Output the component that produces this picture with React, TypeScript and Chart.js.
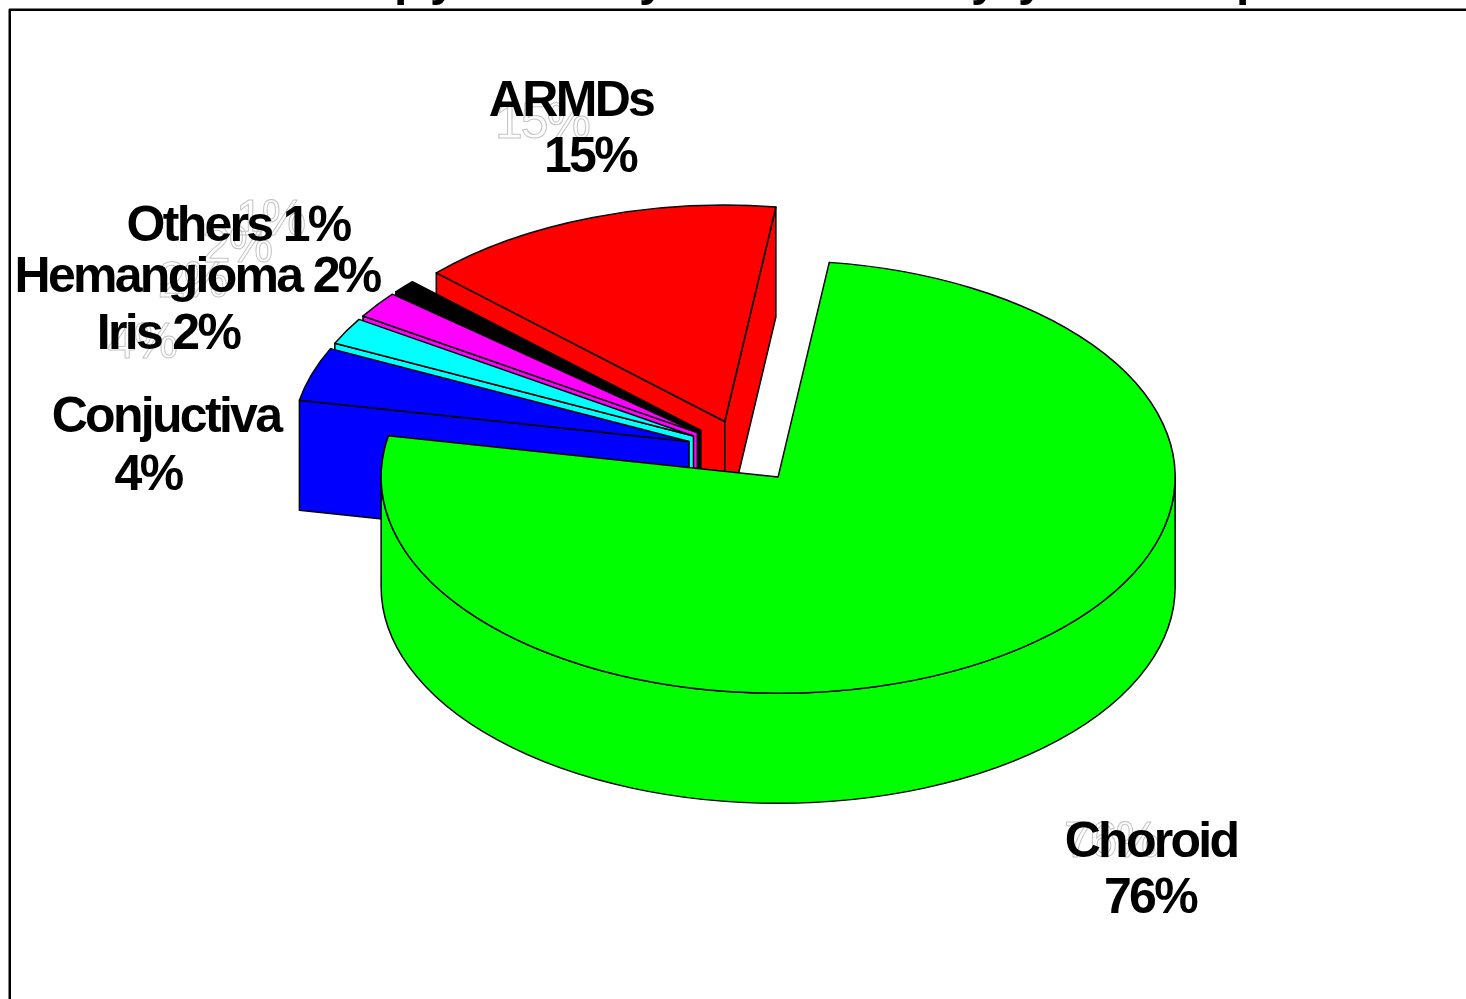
import React, { useEffect, useRef } from "react";
import { Chart, registerables } from "chart.js";

Chart.register(...registerables);

const sites = ["Choroid", "Conjuctiva", "Iris", "Hemangioma", "Others", "ARMDs"];
const shares = [76, 4, 2, 2, 1, 15];
const sliceColors = ["#00ff00", "#0000ff", "#00ffff", "#ff00ff", "#000000", "#ff0000"];
const titleDescenders = ["p", "y", "y", "y", "y", "p"];

// Pie projection: vertical squash of the disc and thickness of the extrusion.
const TILT = 0.545;
const DEPTH = 110;
const RADIUS = 397;
const EXPLODE = 58;

const FONT_BOLD = 'bold 50px "Liberation Sans"';
const FONT_GHOST = '50px "Liberation Sans"';

const titleX = [394, 430, 639, 971, 1018, 1236];

// Where each slice's caption sits: text lines, centre x, baselines, pale label anchor.
const captionLayout: Record<string, { lines: (v: string) => string[]; x: number[]; y: number[]; ghost: [number, number] }> = {
  Choroid: { lines: (v) => ["Choroid", v], x: [1151, 1150], y: [857, 913], ghost: [1111, 857] },
  Conjuctiva: { lines: (v) => ["Conjuctiva", v], x: [166, 148], y: [432, 490], ghost: [142, 358] },
  Iris: { lines: (v) => [`Iris ${v}`], x: [168], y: [349], ghost: [192, 297] },
  Hemangioma: { lines: (v) => [`Hemangioma ${v}`], x: [197], y: [292], ghost: [237, 262] },
  Others: { lines: (v) => [`Others ${v}`], x: [238], y: [241], ghost: [270, 235] },
  ARMDs: { lines: (v) => ["ARMDs", v], x: [571, 590], y: [116, 172], ghost: [542, 138] },
};

function traceSlice(ctx: CanvasRenderingContext2D, ax: number, ay: number, r: number, a0: number, a1: number) {
  ctx.beginPath();
  ctx.moveTo(ax, ay);
  ctx.ellipse(ax, ay, r, r * TILT, 0, a0, a1);
  ctx.closePath();
}

function paint(ctx: CanvasRenderingContext2D, fill: string) {
  ctx.fillStyle = fill;
  ctx.fill();
  ctx.lineWidth = 1.5;
  ctx.lineJoin = "round";
  ctx.strokeStyle = "#000000";
  ctx.stroke();
}

// One flat radial face of an extruded slice.
function radialWall(ctx: CanvasRenderingContext2D, ax: number, ay: number, r: number, angle: number, fill: string) {
  const ex = ax + Math.cos(angle) * r;
  const ey = ay + Math.sin(angle) * r * TILT;
  ctx.beginPath();
  ctx.moveTo(ax, ay);
  ctx.lineTo(ex, ey);
  ctx.lineTo(ex, ey + DEPTH);
  ctx.lineTo(ax, ay + DEPTH);
  ctx.closePath();
  paint(ctx, fill);
}

// The rounded rim, only where it turns toward the viewer.
function rimWall(ctx: CanvasRenderingContext2D, ax: number, ay: number, r: number, a0: number, a1: number, fill: string) {
  for (let k = -1; k <= 2; k++) {
    const lo = Math.max(a0, 2 * Math.PI * k);
    const hi = Math.min(a1, Math.PI + 2 * Math.PI * k);
    if (hi <= lo) continue;
    ctx.beginPath();
    ctx.ellipse(ax, ay, r, r * TILT, 0, lo, hi);
    ctx.ellipse(ax, ay + DEPTH, r, r * TILT, 0, hi, lo, true);
    ctx.closePath();
    paint(ctx, fill);
  }
}

const tiltedPie = {
  id: "tiltedPie",
  beforeDatasetsDraw(chart: any) {
    const ctx: CanvasRenderingContext2D = chart.ctx;
    const arcs = chart.getDatasetMeta(0).data;
    // Back to front: the first slice is the nearest one.
    for (let i = arcs.length - 1; i >= 0; i--) {
      const arc = arcs[i];
      const { x, y, startAngle, endAngle, outerRadius } = arc.getProps(
        ["x", "y", "startAngle", "endAngle", "outerRadius"],
        true
      );
      const mid = (startAngle + endAngle) / 2;
      const off = arc.options.offset;
      const ax = x + Math.cos(mid) * off;
      const ay = y + Math.sin(mid) * off * TILT;
      const fill = arc.options.backgroundColor;
      if (Math.sin(startAngle - Math.PI / 2) > 0) radialWall(ctx, ax, ay, outerRadius, startAngle, fill);
      if (Math.sin(endAngle + Math.PI / 2) > 0) radialWall(ctx, ax, ay, outerRadius, endAngle, fill);
      rimWall(ctx, ax, ay, outerRadius, startAngle, endAngle, fill);
      traceSlice(ctx, ax, ay, outerRadius, startAngle, endAngle);
      paint(ctx, fill);
    }
    return false;
  },
  afterDraw(chart: any) {
    const ctx: CanvasRenderingContext2D = chart.ctx;
    ctx.save();
    ctx.textAlign = "center";
    ctx.textBaseline = "alphabetic";

    // Frame running off the right and bottom of the page.
    ctx.strokeStyle = "#000000";
    ctx.lineWidth = 2.5;
    ctx.beginPath();
    ctx.moveTo(9.75, 1100);
    ctx.lineTo(9.75, 9.75);
    ctx.lineTo(1500, 9.75);
    ctx.stroke();

    // Heading, pushed up so only its descenders stay on the page.
    ctx.textAlign = "left";
    ctx.font = 'bold 48px "Liberation Sans"';
    ctx.fillStyle = "#000000";
    titleDescenders.forEach((g, i) => ctx.fillText(g, titleX[i], -5));
    ctx.textAlign = "center";

    // Pale outlined value labels lying beneath the captions.
    (ctx as any).letterSpacing = "-2px";
    ctx.font = FONT_GHOST;
    ctx.strokeStyle = "#c4c4c4";
    ctx.lineWidth = 1;
    sites.forEach((s, i) => {
      const c = captionLayout[s];
      ctx.strokeText(`${shares[i]}%`, c.ghost[0], c.ghost[1]);
    });

    (ctx as any).letterSpacing = "-2.7px";
    ctx.font = FONT_BOLD;
    ctx.fillStyle = "#000000";
    sites.forEach((s, i) => {
      const c = captionLayout[s];
      c.lines(`${shares[i]}%`).forEach((line, j) => ctx.fillText(line, c.x[j], c.y[j]));
    });
    ctx.restore();
  },
};

export default function App() {
  const ref = useRef<HTMLCanvasElement>(null);
  useEffect(() => {
    const chart = new Chart(ref.current!, {
      type: "pie",
      data: {
        labels: sites,
        datasets: [{ data: shares, backgroundColor: sliceColors, offset: EXPLODE, borderWidth: 0 }],
      },
      options: {
        responsive: false,
        animation: false,
        rotation: 7.4,
        radius: RADIUS,
        layout: { padding: { left: 22.4, bottom: 96.4 } },
        events: [],
        plugins: { legend: { display: false }, tooltip: { enabled: false } },
      },
      plugins: [tiltedPie],
    } as any);
    return () => chart.destroy();
  }, []);
  return (
    <div style={{ position: "fixed", left: 0, top: 0, width: 1466, height: 999, background: "#ffffff" }}>
      <canvas ref={ref} width={1466} height={999} style={{ display: "block" }} />
    </div>
  );
}
